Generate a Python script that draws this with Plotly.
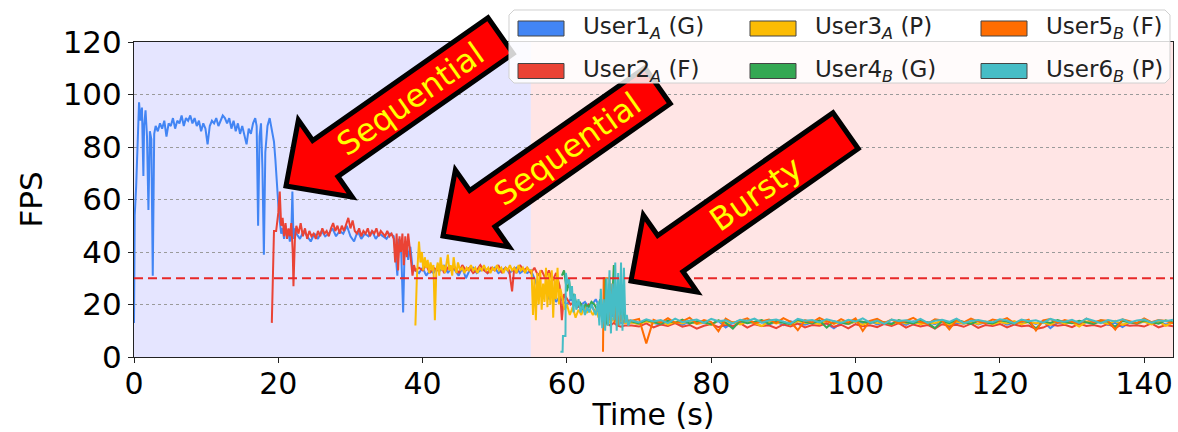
import math
import plotly.graph_objects as go

# ------------------------------------------------------------------ data
# (time s, FPS) samples
u1_early = [
    (0.0, 13), (0.1, 54), (0.3, 65), (0.5, 86), (0.7, 97), (0.9, 90), (1.1, 95), (1.3, 69),
    (1.4, 88), (1.6, 94), (1.8, 84), (2.0, 56), (2.2, 86), (2.4, 83), (2.6, 31), (2.8, 85),
    (3.0, 88), (3.3, 86), (3.6, 89), (3.9, 87), (4.2, 90), (4.5, 84), (4.8, 89), (5.1, 88),
    (5.4, 91), (5.7, 87), (6.0, 90), (6.3, 89), (6.6, 92), (6.9, 88), (7.2, 91), (7.5, 90),
    (7.8, 92), (8.1, 89), (8.4, 91), (8.7, 88), (9.0, 90), (9.3, 86), (9.6, 89), (9.9, 87),
    (10.2, 81), (10.5, 88), (10.8, 90), (11.1, 89), (11.4, 91), (11.7, 88), (12.0, 90),
    (12.3, 92), (12.6, 91), (12.9, 89), (13.2, 91), (13.5, 87), (13.8, 90), (14.1, 86),
    (14.4, 89), (14.7, 85), (15.0, 88), (15.3, 84), (15.6, 81), (15.9, 87), (16.2, 85),
    (16.5, 89), (16.8, 91), (17.0, 88), (17.2, 50), (17.4, 84), (17.6, 89), (17.8, 72),
    (18.0, 39), (18.2, 78), (18.5, 88), (18.8, 91), (19.0, 88), (19.2, 86), (19.4, 82),
    (19.6, 75), (19.8, 64), (20.0, 58), (20.2, 52), (20.4, 47), (20.6, 49), (20.8, 45),
    (21.0, 50), (21.2, 46), (21.4, 48), (21.6, 44), (21.8, 47), (21.95, 63), (22.1, 45),
    (22.3, 49), (22.5, 47), (23.0, 45), (23.5, 48), (24.0, 46), (24.5, 44), (25.0, 47),
    (25.5, 45), (26.0, 48), (26.5, 46), (27.0, 47), (27.5, 49), (28.0, 46), (28.5, 48),
    (29.0, 47), (29.5, 50), (30.0, 46), (30.5, 44), (31.0, 48), (31.5, 45), (32.0, 47),
    (32.5, 46), (33.0, 48), (33.5, 45), (34.0, 47), (34.5, 46), (35.0, 45), (35.5, 47),
    (36.0, 46), (36.3, 38), (36.5, 31), (36.7, 45), (37.0, 43), (37.3, 17), (37.5, 40),
    (37.8, 44), (38.0, 37), (38.3, 42), (38.6, 34), (39.0, 33), (39.5, 32), (40.0, 34),
    (40.5, 31), (41.0, 33), (41.5, 32), (42.0, 34), (42.5, 33), (43.0, 35), (43.5, 32),
    (44.0, 34), (44.5, 33), (45.0, 31), (45.5, 34), (46.0, 30), (46.5, 33), (47.0, 34),
    (47.5, 32), (48.0, 33), (48.5, 34), (49.0, 32), (49.5, 33), (50.0, 34), (50.5, 32),
    (51.0, 33), (51.5, 34), (52.0, 32), (52.5, 33), (53.0, 34), (53.5, 32), (54.0, 33),
    (54.5, 32), (55.0, 33), (55.5, 30), (56.0, 26), (56.5, 23), (57.0, 27), (57.5, 22),
    (58.0, 24), (58.5, 21), (59.0, 23), (59.5, 21), (60.0, 20), (60.5, 22), (61.0, 21),
    (61.5, 19), (62.0, 20), (62.5, 21), (63.0, 19), (63.5, 20), (64.0, 22), (64.5, 19),
    (65.0, 18), (65.5, 17), (66.0, 15), (66.5, 16), (67.0, 14), (67.5, 13), (68.0, 13),
]

u2_early = [
    (19.1, 13), (19.25, 37), (19.4, 48), (19.7, 48), (20.0, 55), (20.2, 63), (20.4, 50),
    (20.6, 53), (20.8, 46), (21.0, 51), (21.2, 45), (21.4, 49), (21.6, 46), (21.8, 51),
    (22.0, 40), (22.1, 27), (22.3, 45), (22.5, 50), (22.8, 47), (23.1, 51), (23.4, 46),
    (23.7, 49), (24.0, 45), (24.3, 48), (24.6, 46), (24.9, 47), (25.2, 45), (25.5, 48),
    (25.8, 46), (26.1, 49), (26.4, 47), (26.7, 48), (27.0, 46), (27.3, 49), (27.6, 51),
    (27.9, 48), (28.2, 50), (28.5, 47), (28.8, 50), (29.1, 48), (29.4, 51), (29.7, 53),
    (30.0, 49), (30.3, 52), (30.6, 48), (30.9, 47), (31.2, 49), (31.5, 46), (31.8, 48),
    (32.1, 47), (32.4, 49), (32.7, 46), (33.0, 48), (33.3, 47), (33.6, 49), (33.9, 46),
    (34.2, 48), (34.5, 47), (34.8, 46), (35.1, 48), (35.4, 46), (35.7, 47), (36.0, 45),
    (36.2, 36), (36.4, 47), (36.6, 33), (36.8, 46), (37.0, 40), (37.2, 47), (37.4, 35),
    (37.6, 46), (37.8, 38), (38.0, 47), (38.2, 42), (38.4, 36), (38.6, 31), (38.8, 35),
    (39.0, 33), (39.5, 34), (40.0, 33), (40.5, 35), (41.0, 32), (41.5, 34), (42.0, 33),
    (42.5, 35), (43.0, 32), (43.5, 34), (44.0, 33), (44.5, 34), (45.0, 32), (45.5, 35),
    (46.0, 33), (46.5, 34), (47.0, 32), (47.5, 33), (48.0, 35), (48.5, 33), (49.0, 32),
    (49.5, 34), (50.0, 33), (50.5, 35), (51.0, 32), (51.5, 34), (52.0, 33), (52.4, 25),
    (52.7, 34), (53.0, 32), (53.5, 35), (54.0, 33), (54.5, 34), (55.0, 32), (55.5, 34),
    (56.0, 31), (56.5, 33), (57.0, 30), (57.5, 33), (58.0, 29), (58.5, 32), (59.0, 27),
    (59.3, 14), (59.6, 24), (60.0, 22), (60.5, 20), (61.0, 21), (61.5, 19), (62.0, 20),
    (62.5, 18), (63.0, 20), (63.5, 19), (64.0, 17), (64.5, 18), (65.0, 15), (65.5, 13),
    (66.0, 12), (66.5, 13), (67.0, 12), (67.5, 11.5), (68.0, 12),
]

u3_early = [
    (39.0, 12), (39.2, 30), (39.5, 44), (39.7, 36), (39.9, 40), (40.1, 33), (40.3, 38),
    (40.5, 34), (40.7, 37), (40.9, 32), (41.1, 36), (41.3, 33), (41.5, 35), (41.7, 14),
    (41.9, 33), (42.1, 36), (42.3, 31), (42.5, 38), (42.7, 33), (42.9, 35), (43.1, 32),
    (43.3, 36), (43.5, 39), (43.7, 33), (43.9, 35), (44.1, 31), (44.3, 38), (44.5, 34),
    (44.7, 32), (44.9, 36), (45.2, 33), (45.5, 34), (45.8, 32), (46.1, 34), (46.4, 33),
    (46.7, 35), (47.0, 33), (47.3, 34), (47.6, 32), (47.9, 34), (48.2, 33), (48.5, 35),
    (48.8, 33), (49.1, 34), (49.4, 32), (49.7, 34), (50.0, 33), (50.3, 35), (50.6, 33),
    (50.9, 34), (51.2, 32), (51.5, 34), (51.8, 33), (52.1, 35), (52.4, 33), (52.7, 34),
    (53.0, 32), (53.3, 35), (53.6, 33), (53.9, 34), (54.2, 32), (54.5, 34), (54.8, 33),
    (55.1, 33), (55.3, 16), (55.5, 30), (55.7, 14), (55.9, 32), (56.1, 20), (56.3, 33),
    (56.5, 18), (56.7, 28), (56.9, 21), (57.1, 34), (57.3, 19), (57.5, 32), (57.7, 20),
    (57.9, 33), (58.1, 15), (58.3, 30), (58.5, 22), (58.7, 34), (58.9, 20), (59.1, 26),
    (59.4, 22), (59.7, 18), (60.0, 20), (60.4, 16), (60.8, 19), (61.2, 15), (61.6, 18),
    (62.0, 16), (62.4, 19), (62.8, 17), (63.2, 18), (63.6, 16), (64.0, 18), (64.4, 15),
    (64.8, 17), (65.2, 14), (65.6, 16), (66.0, 13), (66.5, 15), (67.0, 13), (67.5, 14),
    (68.0, 13),
]

u4_early = [
    (59.3, 31), (59.6, 33), (60.0, 25), (60.3, 29), (60.6, 22), (61.0, 24), (61.4, 19),
    (61.8, 21), (62.2, 18), (62.6, 20), (63.0, 19), (63.4, 21), (63.8, 20), (64.2, 18),
    (64.6, 22), (65.0, 15), (65.3, 30), (65.6, 12), (65.9, 28), (66.2, 16), (66.5, 35),
    (66.8, 14), (67.1, 30), (67.4, 15), (67.7, 22), (68.0, 14),
]

u5_early = [
    (65.0, 2), (65.1, 30), (65.5, 30), (65.9, 30), (66.0, 14), (66.3, 28), (66.6, 13),
    (66.9, 20), (67.2, 12), (67.5, 16), (67.8, 13), (68.0, 14),
]

u6_early = [
    (59.1, 2), (59.4, 2), (59.45, 8), (59.8, 8), (59.85, 32), (60.1, 28), (60.3, 30),
    (60.5, 22), (60.7, 27), (60.9, 17), (61.1, 24), (61.3, 18), (61.6, 22), (61.9, 17),
    (62.2, 20), (62.5, 16), (62.8, 19), (63.1, 17), (63.4, 20), (63.7, 18), (64.0, 16),
    (64.3, 21), (64.5, 12), (64.7, 26), (64.9, 11), (65.1, 22), (65.3, 10), (65.5, 30),
    (65.7, 12), (65.9, 33), (66.1, 9), (66.3, 28), (66.5, 14), (66.7, 36), (66.9, 10),
    (67.1, 32), (67.3, 12), (67.5, 36), (67.7, 10), (67.9, 34), (68.1, 13), (68.3, 16),
    (68.5, 12), (68.8, 14),
]

# steady phase, one sample per second from 69 s to 144 s
steady_t = list(range(69, 145))
u1_steady = [
    13.2, 12.6, 13.8, 12.9, 12.4, 13.5, 13.1, 12.2, 13.6, 12.8,
    13.0, 12.5, 13.7, 11.2, 13.1, 12.7, 13.9, 12.9, 13.3, 12.4,
    13.4, 12.1, 13.6, 12.8, 12.3, 13.2, 13.8, 12.7, 10.9, 13.0,
    12.6, 13.5, 12.9, 13.7, 12.4, 13.1, 12.8, 13.4, 12.2, 13.6,
    12.9, 13.3, 12.5, 13.8, 11.3, 13.0, 12.7, 13.5, 12.4, 13.2,
    12.8, 13.6, 12.3, 13.1, 12.9, 13.4, 12.6, 13.7, 11.0, 13.1,
    12.7, 13.5, 12.4, 13.3, 12.9, 13.6, 12.2, 13.0, 11.4, 13.2,
    12.8, 13.5, 12.6, 13.3, 12.4, 13.1,
]
u2_steady = [
    12.0, 11.6, 12.8, 11.3, 12.4, 11.8, 12.9, 11.5, 12.2, 10.8,
    11.9, 12.6, 11.4, 12.3, 11.7, 12.9, 11.2, 12.5, 11.8, 12.1,
    11.0, 12.4, 11.6, 12.7, 11.3, 12.2, 11.9, 12.8, 11.5, 12.3,
    10.9, 12.5, 11.7, 12.1, 11.4, 12.6, 11.8, 12.9, 11.2, 12.4,
    11.6, 12.2, 10.8, 12.5, 11.9, 12.3, 11.5, 12.7, 11.1, 12.2,
    11.8, 12.6, 11.3, 12.4, 11.7, 12.0, 10.7, 11.2, 12.5, 11.9,
    12.3, 11.4, 12.7, 11.8, 12.2, 11.5, 12.6, 11.1, 12.4, 11.9,
    12.1, 11.6, 12.8, 11.3, 12.2, 11.7,
]
u3_steady = [
    13.1, 12.5, 13.6, 12.9, 13.8, 12.3, 13.4, 12.8, 13.7, 12.6,
    13.2, 12.2, 13.9, 12.7, 13.3, 12.4, 13.6, 12.9, 11.8, 13.5,
    12.8, 13.4, 12.3, 13.7, 12.9, 13.1, 12.5, 13.8, 12.7, 13.3,
    12.6, 13.5, 12.2, 13.6, 12.9, 13.2, 12.4, 13.7, 12.8, 13.4,
    12.5, 13.1, 12.9, 13.8, 12.3, 13.5, 12.7, 13.2, 12.6, 13.6,
    12.4, 13.3, 12.8, 13.7, 12.5, 13.4, 12.9, 13.1, 12.3, 13.6,
    12.7, 13.2, 11.6, 13.5, 12.8, 13.4, 12.6, 13.8, 12.2, 13.3,
    12.9, 13.5, 12.4, 13.6, 11.9, 13.2,
]
u4_steady = [
    13.5, 12.8, 14.1, 13.2, 12.6, 13.9, 13.0, 14.2, 12.7, 13.6,
    13.3, 12.4, 14.0, 13.1, 10.8, 13.8, 12.9, 13.4, 14.1, 12.6,
    13.7, 13.0, 12.5, 14.2, 13.3, 12.8, 13.9, 11.2, 13.6, 13.0,
    12.7, 14.0, 13.4, 12.9, 13.8, 13.1, 12.5, 14.1, 13.2, 12.8,
    13.9, 13.0, 11.0, 13.7, 12.9, 14.2, 13.3, 12.6, 13.8, 13.1,
    12.8, 14.0, 13.5, 12.7, 13.9, 13.2, 10.9, 13.6, 13.0, 14.1,
    13.3, 12.9, 13.8, 13.1, 12.6, 14.0, 13.4, 11.5, 13.7, 13.2,
    12.8, 13.9, 13.3, 12.7, 14.0, 13.1,
]
u5_steady = [
    13.8, 14.5, 5.2, 14.2, 13.1, 14.8, 12.9, 13.6, 15.0, 12.7,
    14.1, 13.3, 9.8, 14.6, 13.0, 13.9, 14.7, 12.8, 13.5, 14.3,
    12.9, 14.8, 13.4, 10.2, 14.0, 13.2, 14.9, 13.6, 12.7, 14.4,
    13.1, 14.7, 9.9, 13.8, 14.5, 13.0, 14.2, 12.8, 13.7, 14.9,
    13.3, 12.6, 14.4, 13.9, 10.5, 14.1, 13.2, 14.6, 13.5, 12.9,
    14.3, 13.7, 14.8, 12.8, 13.4, 14.2, 10.1, 13.9, 14.5, 13.0,
    14.1, 13.5, 12.7, 14.6, 13.2, 14.0, 13.8, 10.4, 14.3, 13.6,
    12.9, 14.7, 13.3, 14.1, 13.7, 12.8,
]
u6_steady = [
    13.9, 13.2, 14.4, 13.5, 14.1, 12.9, 14.6, 13.3, 13.8, 14.3,
    13.0, 14.5, 13.6, 14.0, 12.8, 14.2, 13.7, 14.6, 13.1, 13.9,
    14.3, 13.4, 12.7, 14.5, 13.8, 14.1, 13.2, 14.4, 13.6, 13.0,
    14.2, 13.5, 14.7, 13.1, 13.9, 12.6, 14.3, 13.7, 14.0, 13.3,
    14.5, 13.0, 13.8, 14.2, 13.4, 14.6, 12.9, 13.7, 14.1, 13.5,
    13.2, 14.4, 13.9, 12.8, 14.3, 13.6, 14.0, 13.1, 14.5, 13.7,
    13.4, 14.2, 13.0, 14.6, 13.8, 12.9, 14.1, 13.5, 14.4, 13.2,
    13.9, 14.3, 13.1, 14.0, 13.6, 14.2,
]

series_names = [
    "User1<sub><i>A</i></sub> (G)", "User2<sub><i>A</i></sub> (F)",
    "User3<sub><i>A</i></sub> (P)", "User4<sub><i>B</i></sub> (G)",
    "User5<sub><i>B</i></sub> (F)", "User6<sub><i>B</i></sub> (P)",
]
series_colors = ["#4285F4", "#EA4335", "#FBBC04", "#34A853", "#FF6D01", "#46BDC6"]
series_early = [u1_early, u2_early, u3_early, u4_early, u5_early, u6_early]
series_steady = [u1_steady, u2_steady, u3_steady, u4_steady, u5_steady, u6_steady]

x_ticks = [0, 20, 40, 60, 80, 100, 120, 140]
y_ticks = [0, 20, 40, 60, 80, 100, 120]
x_max = 144
y_max = 120
threshold_fps = 30
phase_split = 55

arrow_labels = ["Sequential", "Sequential", "Bursty"]

# ------------------------------------------------------------------ geometry
W, H = 1178, 432
ML, MR, MT, MB = 134, 5, 42, 75
PW, PH = W - ML - MR, H - MT - MB
FONT = "DejaVu Sans"


def p2p(x, y):
    """pixel -> paper coordinates"""
    return (x - ML) / PW, (H - MB - y) / PH


def path_from_px(points):
    parts = []
    for i, (x, y) in enumerate(points):
        px, py = p2p(x, y)
        parts.append(("M" if i == 0 else "L") + f"{px:.5f},{py:.5f}")
    return " ".join(parts) + " Z"


fig = go.Figure()

for name, col, early, steady in zip(series_names, series_colors, series_early, series_steady):
    t = [p[0] for p in early] + steady_t
    v = [p[1] for p in early] + steady
    fig.add_trace(go.Scatter(x=t, y=v, mode="lines", name=name,
                             line=dict(color=col, width=2), showlegend=False))

shapes = []
# phase shading
shapes.append(dict(type="rect", xref="x", yref="paper", x0=0, x1=phase_split, y0=0, y1=1,
                   fillcolor="rgba(0,0,255,0.10)", line=dict(width=0), layer="below"))
shapes.append(dict(type="rect", xref="x", yref="paper", x0=phase_split, x1=x_max, y0=0, y1=1,
                   fillcolor="rgba(255,0,0,0.10)", line=dict(width=0), layer="below"))
# threshold
shapes.append(dict(type="line", xref="paper", yref="y", x0=0, x1=1, y0=threshold_fps,
                   y1=threshold_fps, line=dict(color="rgb(232,40,40)", width=2, dash="9px,5px"),
                   layer="above"))

annotations = []

# big arrows (pixel geometry)
arrow_tips = [(286, 186), (443, 236), (631, 281)]
ANG = 35.0
L_TOT, HEAD_L, HEAD_W, SHAFT_W = 262, 48, 47, 22
for tip, label in zip(arrow_tips, arrow_labels):
    a = math.radians(ANG)
    dx, dy = math.cos(a), -math.sin(a)
    nx, ny = -dy, dx

    def P(along, side, tip=tip, dx=dx, dy=dy, nx=nx, ny=ny):
        return (tip[0] + dx * along + nx * side, tip[1] + dy * along + ny * side)

    pts = [P(0, 0), P(HEAD_L, HEAD_W), P(HEAD_L, SHAFT_W), P(L_TOT, SHAFT_W),
           P(L_TOT, -SHAFT_W), P(HEAD_L, -SHAFT_W), P(HEAD_L, -HEAD_W)]
    shapes.append(dict(type="path", xref="paper", yref="paper", path=path_from_px(pts),
                       fillcolor="#FF0000", line=dict(color="black", width=5), layer="above"))
    cx, cy = P(152, 0)
    px_, py_ = p2p(cx, cy)
    annotations.append(dict(x=px_, y=py_, xref="paper", yref="paper", text=label,
                            showarrow=False, textangle=-ANG, xanchor="center", yanchor="middle",
                            font=dict(family=FONT, size=32, color="#FFFF00")))

# legend (manual, matplotlib-like patches)
lx0, ly0, lx1, ly1, r = 509, 10, 1170, 83, 5
corner = [
    (lx0 + r, ly0), (lx1 - r, ly0), (lx1, ly0 + r), (lx1, ly1 - r),
    (lx1 - r, ly1), (lx0 + r, ly1), (lx0, ly1 - r), (lx0, ly0 + r),
]
shapes.append(dict(type="path", xref="paper", yref="paper", path=path_from_px(corner),
                   fillcolor="rgba(255,255,255,0.82)", line=dict(color="#d0d0d0", width=1),
                   layer="above"))
col_x = [518, 750, 981]
row_y = [21, 63.5]
PATCH_W, PATCH_H = 46, 15
for i, (name, col) in enumerate(zip(series_names, series_colors)):
    c, rr = i // 2, i % 2
    x0, y0 = col_x[c], row_y[rr]
    a0 = p2p(x0, y0 + PATCH_H)
    a1 = p2p(x0 + PATCH_W, y0)
    shapes.append(dict(type="rect", xref="paper", yref="paper", x0=a0[0], y0=a0[1],
                       x1=a1[0], y1=a1[1], fillcolor=col, line=dict(color="#444", width=1),
                       layer="above"))
    tx, ty = p2p(x0 + PATCH_W + 17, y0 + PATCH_H / 2)
    annotations.append(dict(x=tx, y=ty, xref="paper", yref="paper", text=name, showarrow=False,
                            xanchor="left", yanchor="middle",
                            font=dict(family=FONT, size=23, color="#222")))

fig.update_layout(
    width=W, height=H,
    margin=dict(l=ML, r=MR, t=MT, b=MB, autoexpand=False),
    paper_bgcolor="white", plot_bgcolor="white",
    font=dict(family=FONT, color="black"),
    shapes=shapes, annotations=annotations, showlegend=False,
    xaxis=dict(range=[0, x_max], tickvals=x_ticks, ticks="outside", ticklen=5, tickcolor="#222",
               showline=True, mirror=True, linecolor="#222", linewidth=1, showgrid=False,
               zeroline=False, tickfont=dict(size=30, family=FONT), ticklabelstandoff=-5,
               title=dict(text="Time (s)", font=dict(size=30, family=FONT), standoff=14)),
    yaxis=dict(range=[0, y_max], tickvals=y_ticks, ticks="outside", ticklen=5, tickcolor="#222",
               showline=True, mirror=True, linecolor="#222", linewidth=1, showgrid=True,
               gridcolor="#9a9a9a", griddash="dot", gridwidth=1, zeroline=False,
               tickfont=dict(size=31, family=FONT),
               title=dict(text="FPS", font=dict(size=31, family=FONT), standoff=10)),
)

fig.write_html("out.html")
